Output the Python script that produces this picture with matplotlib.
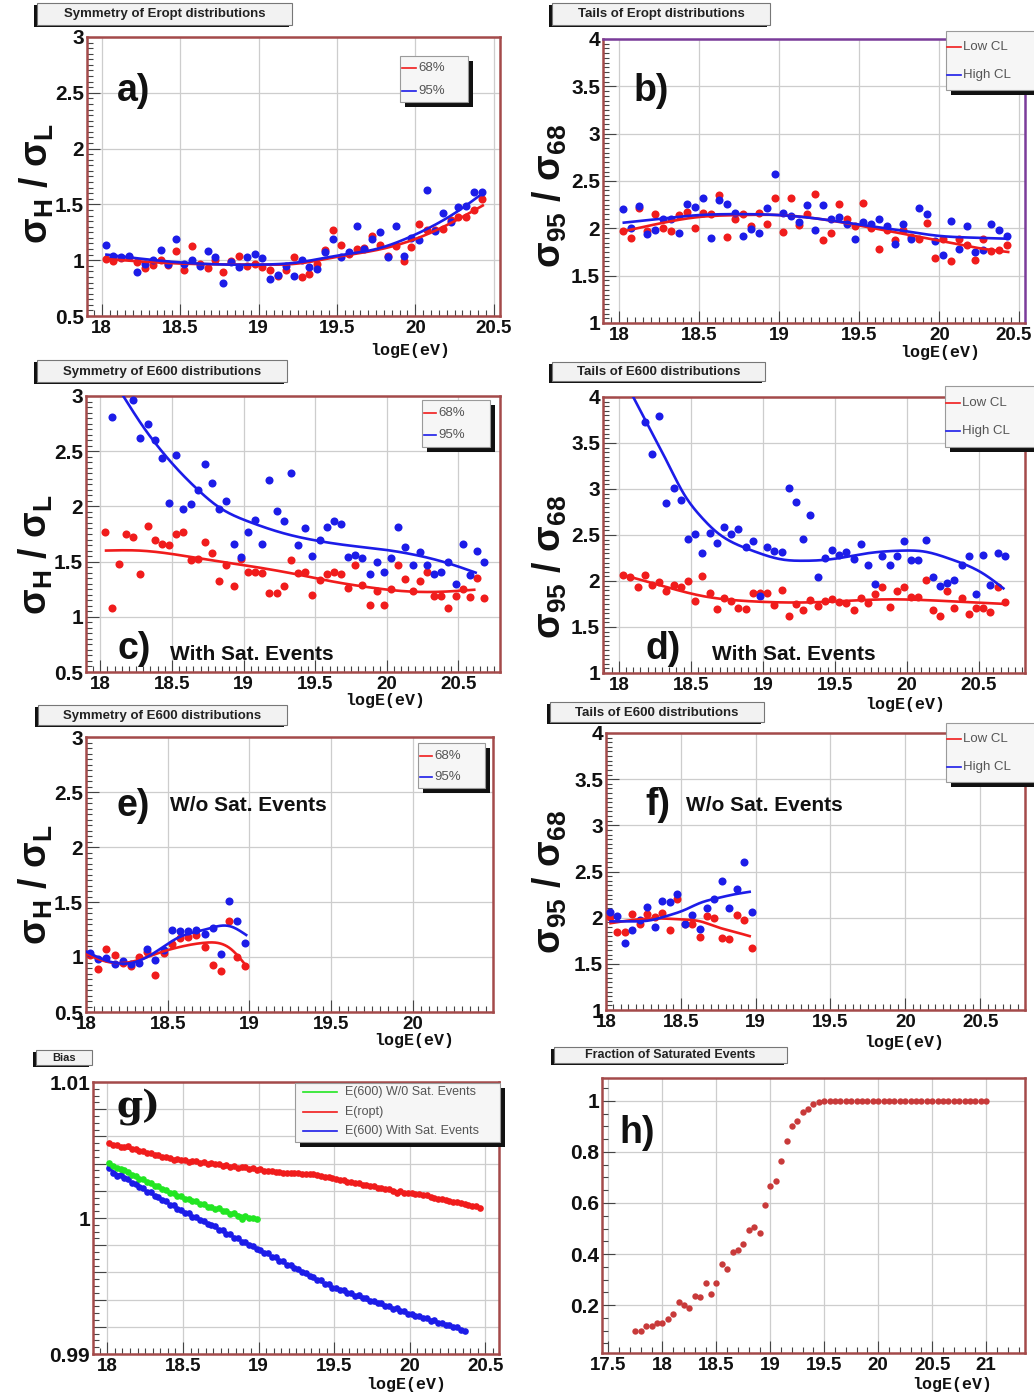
import numpy as np
import matplotlib
matplotlib.use('Agg')
import matplotlib.pyplot as plt
from matplotlib.ticker import MultipleLocator, FuncFormatter
from matplotlib.patches import Rectangle

# ----------------------------------------------------------------- data
# bin centres (logE)
x_eropt = np.round(np.arange(18.025, 20.45, 0.05), 3)        # 49 bins, panels a, b
x_e600 = np.round(np.arange(18.03, 20.70, 0.05), 3)          # 54 bins, panels c, d
x_nosat = np.round(np.arange(18.025, 19.0, 0.05), 3)         # 20 bins, panels e, f
x_bias_ropt = np.round(np.arange(18.0125, 20.47, 0.025), 4)  # 99 bins
x_bias_sat = np.round(np.arange(18.0125, 20.37, 0.025), 4)   # 95 bins
x_bias_nosat = np.round(np.arange(18.0125, 19.0, 0.025), 4)  # 40 bins
x_frac = np.round(np.arange(17.75, 21.01, 0.05), 3)          # 66 bins

# a) symmetry of Eropt
a_68 = [1.01, 0.99, 1.02, 1.03, 0.98, 0.93, 0.96, 1.00, 0.96, 1.08, 0.91, 1.13, 0.97, 0.93, 1.00,
        0.89, 0.99, 1.04, 0.95, 0.97, 0.94, 0.91, 0.86, 0.91, 1.03, 0.85, 0.88, 0.97, 1.09, 1.27,
        1.14, 1.06, 1.10, 1.11, 1.22, 1.14, 1.04, 1.13, 0.99, 1.12, 1.32, 1.27, 1.27, 1.28, 1.36,
        1.39, 1.39, 1.45, 1.55]
a_95 = [1.14, 1.04, 1.03, 1.04, 0.89, 0.97, 1.00, 1.09, 0.97, 1.19, 0.97, 1.00, 0.95, 1.08, 1.03,
        0.80, 0.98, 0.94, 1.03, 1.06, 1.02, 0.83, 0.87, 0.95, 0.86, 1.00, 0.94, 0.92, 1.07, 1.19,
        1.03, 1.07, 1.31, 1.10, 1.19, 1.25, 1.03, 1.31, 1.04, 1.20, 1.18, 1.63, 1.26, 1.42, 1.34,
        1.48, 1.49, 1.61, 1.61]
a_fit_x = [18.03, 18.5, 19.0, 19.25, 19.5, 19.75, 20.0, 20.25, 20.43]
a_fit_68 = [1.01, 0.97, 0.96, 0.97, 1.03, 1.09, 1.19, 1.35, 1.49]
a_fit_95 = [1.05, 0.98, 0.96, 0.98, 1.04, 1.10, 1.23, 1.42, 1.60]

# b) tails of Eropt
b_low = [1.97, 1.90, 2.21, 1.97, 2.15, 2.00, 1.97, 2.14, 2.17, 2.00, 2.16, 2.15, 2.35, 1.91, 2.10,
         2.15, 2.02, 2.16, 2.05, 2.32, 1.96, 2.32, 2.04, 2.15, 2.36, 1.88, 1.95, 2.26, 2.10, 2.02,
         2.27, 2.00, 1.78, 1.98, 1.88, 1.98, 1.91, 1.89, 2.06, 1.69, 1.89, 1.65, 1.89, 1.82, 1.67,
         1.89, 1.76, 1.77, 1.82]
b_high = [2.20, 2.00, 2.24, 1.94, 1.98, 2.10, 2.10, 1.95, 2.26, 2.23, 2.32, 1.90, 2.30, 2.26, 2.16,
          1.92, 1.99, 1.95, 2.22, 2.57, 2.16, 2.13, 2.07, 2.25, 1.98, 2.25, 2.10, 2.12, 2.05, 1.89,
          2.07, 2.05, 2.10, 2.02, 1.83, 2.05, 1.89, 2.22, 2.15, 1.87, 1.72, 2.08, 1.78, 2.02, 1.75,
          1.77, 2.05, 1.98, 1.92]
b_fit_x = [18.03, 18.25, 18.5, 18.75, 19.0, 19.25, 19.5, 19.75, 20.0, 20.25, 20.43]
b_fit_low = [1.97, 2.05, 2.12, 2.14, 2.14, 2.10, 2.03, 1.95, 1.87, 1.79, 1.75]
b_fit_high = [2.06, 2.10, 2.14, 2.15, 2.14, 2.10, 2.04, 1.98, 1.92, 1.90, 1.89]

nan = np.nan
# c) symmetry of E600, with saturated events
c_68 = [1.77, 1.08, 1.48, 1.75, 1.72, 1.39, 1.82, 1.70, 1.66, 1.65, 1.75, 1.77, 1.51, 1.52, 1.68,
        1.58, 1.32, 1.47, 1.28, 1.52, 1.41, 1.41, 1.40, 1.22, 1.22, 1.28, 1.51, 1.40, 1.41, 1.20,
        1.33, 1.39, 1.41, 1.39, 1.26, 1.47, 1.29, 1.11, 1.23, 1.11, 1.25, 1.47, 1.34, 1.23, 1.32,
        1.41, 1.19, 1.19, 1.08, 1.19, 1.25, 1.18, 1.35, 1.17]
c_95 = [nan, 2.81, nan, nan, 2.96, 2.62, 2.75, 2.60, 2.44, 2.03, 2.47, 1.98, 2.02, 2.15, 2.38,
        2.21, 1.98, 2.05, 1.66, 1.54, 1.77, 1.88, 1.66, 2.24, 1.96, 1.87, 2.30, 1.65, 1.80, 1.55,
        1.70, 1.81, 1.87, 1.84, 1.54, 1.56, 1.53, 1.39, 1.50, 1.41, 1.53, 1.81, 1.63, 1.47, 1.59,
        1.47, 1.39, 1.41, 1.50, 1.30, 1.66, 1.38, 1.60, 1.50]
c_fit68_x = [18.04, 18.27, 18.69, 19.04, 19.39, 19.62, 19.86, 20.09, 20.32, 20.61]
c_fit68_y = [1.60, 1.60, 1.53, 1.46, 1.38, 1.32, 1.27, 1.235, 1.225, 1.245]
c_fit95_x = [18.16, 18.30, 18.41, 18.55, 18.69, 18.82, 19.04, 19.27, 19.51, 19.74, 19.97, 20.20,
             20.44, 20.62]
c_fit95_y = [3.00, 2.72, 2.53, 2.32, 2.14, 2.00, 1.86, 1.76, 1.69, 1.645, 1.61, 1.56, 1.48, 1.40]

# d) tails of E600, with saturated events
d_low = [2.07, 2.04, 1.94, 2.07, 1.96, 1.99, 1.89, 1.96, 1.93, 2.00, 1.78, 2.05, 1.87, 1.70, 1.81,
         1.78, 1.71, 1.70, 1.87, 1.87, 1.87, 1.74, 1.90, 1.62, 1.75, 1.68, 1.79, 1.73, 1.78, 1.80,
         1.77, 1.76, 1.68, 1.81, 1.76, 1.86, 1.93, 1.72, 1.89, 1.93, 1.83, 1.83, 2.01, 1.69, 1.62,
         1.89, 1.71, 1.81, 1.64, 1.71, 1.71, 1.66, 1.93, 1.77]
d_high = [nan, nan, nan, 3.73, 3.38, 3.79, 2.85, 3.01, 2.88, 2.46, 2.51, 2.30, 2.52, 2.41, 2.59,
          2.51, 2.56, 2.37, 2.43, 1.84, 2.37, 2.33, 2.31, 3.01, 2.86, 2.46, 2.72, 2.04, 2.25, 2.34,
          2.28, 2.31, 2.24, 2.40, 2.17, 1.97, 2.27, 2.17, 2.27, 2.43, 2.23, 2.23, 2.45, 2.04, 1.95,
          1.98, 2.01, 2.17, 2.27, 1.86, 2.28, 1.96, 2.30, 2.27]
d_fitlow_x = [18.02, 18.34, 18.57, 18.91, 19.38, 19.84, 20.30, 20.69]
d_fitlow_y = [2.07, 1.93, 1.84, 1.78, 1.77, 1.80, 1.78, 1.75]
d_fithigh_x = [18.10, 18.22, 18.34, 18.45, 18.57, 18.68, 18.91, 19.15, 19.26, 19.49, 19.72, 19.96,
               20.12, 20.30, 20.53, 20.67]
d_fithigh_y = [4.00, 3.64, 3.28, 2.95, 2.70, 2.53, 2.34, 2.23, 2.22, 2.24, 2.30, 2.33, 2.32, 2.24,
               2.08, 1.92]

# e) symmetry of E600, without saturated events
e_68 = [1.02, 0.89, 1.07, 1.02, 0.95, 0.92, 1.00, 1.05, 0.84, 1.04, 1.12, 1.17, 1.18, 1.20, 1.09,
        0.93, 0.87, 1.33, 1.00, 0.92]
e_95 = [1.04, 0.98, 0.99, 0.94, 0.96, 0.94, 0.95, 1.07, 0.97, 1.06, 1.25, 1.24, 1.24, 1.25, 1.21,
        1.26, 1.03, 1.51, 1.33, 1.13]
e_fit_x = [18.0, 18.12, 18.29, 18.43, 18.57, 18.73, 18.88, 18.98]
e_fit_68 = [1.03, 0.96, 0.96, 1.03, 1.09, 1.13, 1.08, 0.92]
e_fit_95 = [1.05, 0.97, 0.95, 1.05, 1.18, 1.25, 1.28, 1.20]

# f) tails of E600, without saturated events
f_low = [2.01, 1.85, 1.84, 2.04, 1.93, 2.04, 2.01, 2.05, 1.87, 2.20, 1.93, 1.93, 1.79, 2.02, 2.00,
         1.78, 1.77, 2.03, 1.97, 1.67]
f_high = [2.06, 2.02, 1.73, 1.87, 1.97, 2.12, 1.90, 2.18, 2.17, 2.26, 1.93, 2.03, 1.88, 2.11, 2.20,
          2.40, 2.10, 2.31, 2.60, 2.06]
f_fitlow_x = [18.03, 18.29, 18.52, 18.63, 18.74, 18.85, 18.96]
f_fitlow_y = [1.94, 1.99, 1.98, 1.96, 1.90, 1.85, 1.80]
f_fithigh_x = [18.03, 18.14, 18.29, 18.41, 18.52, 18.63, 18.74, 18.85, 18.96]
f_fithigh_y = [1.96, 1.96, 1.97, 2.02, 2.08, 2.16, 2.21, 2.25, 2.28]

# g) bias (deviation from 1, in units of 1e-3)
g_ropt_1e3 = [5.48, 5.34, 5.36, 5.22, 5.22, 5.30, 5.04, 5.04, 4.89, 4.92, 4.79, 4.80, 4.64, 4.64,
              4.49, 4.52, 4.43, 4.30, 4.36, 4.25, 4.30, 4.15, 4.21, 4.20, 4.07, 4.09, 3.99, 4.05,
              3.94, 3.97, 3.86, 3.91, 3.78, 3.82, 3.70, 3.74, 3.72, 3.61, 3.64, 3.56, 3.57, 3.48,
              3.49, 3.48, 3.39, 3.40, 3.33, 3.33, 3.30, 3.29, 3.28, 3.23, 3.24, 3.22, 3.22, 3.17,
              3.12, 3.05, 2.99, 2.93, 2.89, 2.77, 2.76, 2.65, 2.65, 2.55, 2.55, 2.42, 2.43, 2.33,
              2.32, 2.20, 2.22, 2.12, 2.11, 1.97, 1.86, 1.97, 1.83, 1.87, 1.84, 1.77, 1.73, 1.70,
              1.72, 1.56, 1.48, 1.41, 1.38, 1.30, 1.26, 1.18, 1.14, 1.07, 1.03, 0.96, 0.91, 0.85,
              0.74]
g_sat_1e3 = [3.66, 3.30, 3.12, 3.18, 2.93, 2.85, 2.58, 2.52, 2.27, 2.20, 1.94, 1.88, 1.63, 1.56,
             1.30, 1.25, 0.98, 0.93, 0.68, 0.62, 0.40, 0.35, 0.10, 0.08, -0.18, -0.20, -0.47, -0.48,
             -0.62, -0.88, -0.90, -1.16, -1.20, -1.44, -1.48, -1.73, -1.76, -2.01, -2.05, -2.29,
             -2.33, -2.58, -2.60, -2.86, -2.90, -3.14, -3.18, -3.42, -3.45, -3.71, -3.74, -3.99,
             -4.02, -4.28, -4.31, -4.55, -4.58, -4.84, -4.87, -5.12, -5.13, -5.31, -5.32, -5.51,
             -5.50, -5.70, -5.69, -5.89, -5.90, -6.08, -6.09, -6.27, -6.28, -6.47, -6.46, -6.66,
             -6.65, -6.85, -6.86, -7.04, -7.03, -7.21, -7.20, -7.38, -7.36, -7.54, -7.53, -7.71,
             -7.70, -7.88, -7.86, -8.04, -8.03, -8.21, -8.30]
g_nosat_1e3 = [4.05, 3.80, 3.70, 3.62, 3.55, 3.40, 3.15, 3.12, 2.90, 2.85, 2.62, 2.60, 2.38, 2.35,
               2.10, 2.08, 1.85, 1.82, 1.60, 1.65, 1.40, 1.42, 1.22, 1.25, 1.02, 1.05, 0.84, 0.82,
               0.65, 0.70, 0.48, 0.52, 0.33, 0.40, 0.18, -0.10, 0.15, 0.00, -0.02, -0.05]
g_fit_ropt_x = [18.01, 18.43, 18.95, 19.49, 20.0, 20.47]
g_fit_ropt_1e3 = [5.46, 4.36, 3.62, 2.89, 1.79, 0.76]
g_fit_sat_x = [18.01, 18.43, 18.95, 19.49, 20.0, 20.37]
g_fit_sat_1e3 = [3.62, 0.91, -2.03, -5.09, -7.05, -8.27]
g_fit_nosat_x = [18.01, 18.43, 18.69, 18.99]
g_fit_nosat_1e3 = [4.00, 1.80, 0.76, -0.07]

# h) fraction of saturated events
h_frac = [0.099, 0.100, 0.117, 0.117, 0.128, 0.128, 0.144, 0.164, 0.213, 0.200, 0.190, 0.236,
          0.232, 0.285, 0.245, 0.285, 0.360, 0.340, 0.406, 0.415, 0.441, 0.493, 0.507, 0.483,
          0.594, 0.667, 0.687, 0.765, 0.843, 0.900, 0.920, 0.957, 0.970, 0.987, 0.996,
          1.0, 1.0, 1.0, 1.0, 1.0, 1.0, 1.0, 1.0, 1.0, 1.0, 1.0, 1.0, 1.0, 1.0, 1.0, 1.0,
          1.0, 1.0, 1.0, 1.0, 1.0, 1.0, 1.0, 1.0, 1.0, 1.0, 1.0, 1.0, 1.0, 1.0, 1.0]

# ----------------------------------------------------------------- style
W, H = 1034, 1397
plt.rcParams['font.family'] = ['Liberation Sans', 'DejaVu Sans']
plt.rcParams['mathtext.fontset'] = 'custom'
plt.rcParams['mathtext.rm'] = 'Liberation Sans:bold'
plt.rcParams['mathtext.it'] = 'Liberation Sans:bold'
plt.rcParams['mathtext.bf'] = 'Liberation Sans:bold'

RED = '#f01c1c'
BLUE = '#1c1ce8'
GREEN = '#22e622'
FRAME = '#a44a4a'

fig = plt.figure(figsize=(W / 100, H / 100), dpi=100)
ov = fig.add_axes([0, 0, 1, 1], zorder=20)
ov.set_xlim(0, W)
ov.set_ylim(H, 0)
ov.axis('off')
ov.patch.set_alpha(0)


def spline(xk, yk, n=300):
    xk = np.asarray(xk, float)
    yk = np.asarray(yk, float)
    m = len(xk)
    h = np.diff(xk)
    A = np.zeros((m, m))
    r = np.zeros(m)
    A[0, 0] = A[-1, -1] = 1
    for i in range(1, m - 1):
        A[i, i - 1] = h[i - 1]
        A[i, i] = 2 * (h[i - 1] + h[i])
        A[i, i + 1] = h[i]
        r[i] = 6 * ((yk[i + 1] - yk[i]) / h[i] - (yk[i] - yk[i - 1]) / h[i - 1])
    M = np.linalg.solve(A, r)
    xs = np.linspace(xk[0], xk[-1], n)
    j = np.clip(np.searchsorted(xk, xs) - 1, 0, m - 2)
    t0, t1 = xk[j], xk[j + 1]
    hh = t1 - t0
    a = (t1 - xs) / hh
    b = (xs - t0) / hh
    ys = a * yk[j] + b * yk[j + 1] + ((a ** 3 - a) * M[j] + (b ** 3 - b) * M[j + 1]) * hh ** 2 / 6
    return xs, ys


def fmt(v, p):
    return '%g' % round(v, 4)


def make_ax(box, xlim, ylim, ymaj, ymin, xmaj=0.5, xmin=0.05, frame=FRAME):
    x0, y0, x1, y1 = box
    ax = fig.add_axes([x0 / W, 1 - y1 / H, (x1 - x0) / W, (y1 - y0) / H])
    ax.set_xlim(*xlim)
    ax.set_ylim(*ylim)
    ax.xaxis.set_major_locator(MultipleLocator(xmaj))
    ax.xaxis.set_minor_locator(MultipleLocator(xmin))
    ax.yaxis.set_major_locator(MultipleLocator(ymaj))
    ax.yaxis.set_minor_locator(MultipleLocator(ymin))
    ax.xaxis.set_major_formatter(FuncFormatter(fmt))
    ax.yaxis.set_major_formatter(FuncFormatter(fmt))
    ax.grid(True, which='major', color='#cdcdcd', lw=0.9)
    ax.set_axisbelow(True)
    ax.tick_params(which='both', direction='in', top=False, right=False, color='#444444', width=0.8)
    ax.tick_params(which='major', length=9)
    ax.tick_params(which='minor', length=4.5)
    ax.tick_params(axis='x', labelsize=13.5, pad=3)
    ax.tick_params(axis='y', labelsize=15, pad=2)
    for sp in ax.spines.values():
        sp.set_color(frame)
        sp.set_linewidth(1.8)
    return ax


def bold_ticks(ax):
    for lab in ax.get_xticklabels() + ax.get_yticklabels():
        lab.set_fontweight('bold')
        lab.set_color('#111111')


def title_box(box, text, size=9.5):
    x0, y0, x1, y1 = box
    ov.add_patch(Rectangle((x0 - 3, y0 + 2), x1 - x0, y1 - y0, facecolor='#111111', edgecolor='none'))
    ov.add_patch(Rectangle((x0, y0), x1 - x0, y1 - y0, facecolor='#f2f2f2', edgecolor='#777777', lw=0.8))
    ov.text((x0 + x1) / 2, (y0 + y1) / 2 + 0.5, text, ha='center', va='center', fontsize=size,
            fontweight='bold', color='#222222')


def legend_box(box, entries, line_x, text_x, rows, size=9.5):
    x0, y0, x1, y1 = box
    ov.add_patch(Rectangle((x0 + 5, y0 + 5), x1 - x0, y1 - y0, facecolor='#111111', edgecolor='none'))
    ov.add_patch(Rectangle((x0, y0), x1 - x0, y1 - y0, facecolor='#f6f6f6', edgecolor='#9a9a9a', lw=0.8))
    for (col, lab), yy in zip(entries, rows):
        ov.plot(line_x, [yy, yy], color=col, lw=1.2)
        ov.text(text_x, yy, lab, ha='left', va='center', fontsize=size, color='#555555')


def xlabel(cx, cy):
    ov.text(cx, cy, 'logE(eV)', ha='center', va='center', fontsize=12, fontweight='bold',
            family=['Liberation Mono', 'DejaVu Sans Mono'], color='#111111')


def ylabel(cx, cy, text):
    ov.text(cx, cy, text, ha='center', va='center', rotation=90, fontsize=27, fontweight='bold',
            color='#111111')


def panel_letter(ax, fx, fy, s, serif=False):
    fam = ['DejaVu Serif'] if serif else ['Liberation Sans', 'DejaVu Sans']
    ax.text(fx, fy, s, transform=ax.transAxes, fontsize=27, fontweight='bold', va='center',
            ha='left', family=fam, color='#111111')


def note(ax, fx, fy, s):
    ax.text(fx, fy, s, transform=ax.transAxes, fontsize=15, fontweight='bold', va='center',
            ha='left', family=['Liberation Sans Narrow', 'Liberation Sans'], color='#111111')


def dots(ax, x, y, col, ms=5.8):
    ax.plot(x, y, 'o', ms=ms, color=col, mec=col, mew=0, zorder=3)


def fit(ax, xk, yk, col, lw=1.9):
    xs, ys = spline(xk, yk)
    ax.plot(xs, ys, '-', color=col, lw=lw, zorder=4)


SIG_HL = 'σ$_H$ / σ$_L$'
SIG_9568 = 'σ$_{95}$ / σ$_{68}$'

# ----------------------------------------------------------------- a
ax = make_ax((87, 37, 500, 316), (17.906, 20.54), (0.5, 3), 0.5, 0.05)
dots(ax, x_eropt, a_68, RED)
dots(ax, x_eropt, a_95, BLUE)
fit(ax, a_fit_x, a_fit_68, RED)
fit(ax, a_fit_x, a_fit_95, BLUE)
panel_letter(ax, 0.073, 0.806, 'a)')
bold_ticks(ax)
title_box((37, 3, 292, 25), 'Symmetry of Eropt distributions')
legend_box((400, 56, 468, 102), [(RED, '68%'), (BLUE, '95%')], [402, 416], 418, [68, 91])
ylabel(37, 184, SIG_HL)
xlabel(410, 350)

# ----------------------------------------------------------------- b
ax = make_ax((603, 39, 1025, 323), (17.90, 20.535), (1, 4), 0.5, 0.05)
ax.xaxis.set_major_formatter(FuncFormatter(lambda v, p: '' if v > 20.4 else '%g' % round(v, 4)))
ax.spines['top'].set_color('#7a3c9a')
ax.spines['right'].set_color('#7a3c9a')
dots(ax, x_eropt, b_low, RED)
dots(ax, x_eropt, b_high, BLUE)
fit(ax, b_fit_x, b_fit_low, RED)
fit(ax, b_fit_x, b_fit_high, BLUE)
panel_letter(ax, 0.073, 0.817, 'b)')
bold_ticks(ax)
ov.text(1014, 335, '20.5', ha='center', va='center', fontsize=13.5, fontweight='bold', color='#111111')
title_box((552, 3, 770, 25), 'Tails of Eropt distributions')
legend_box((946, 31, 1040, 90), [(RED, 'Low CL'), (BLUE, 'High CL')], [947, 961], 963, [47, 75])
ylabel(550, 196, SIG_9568)
xlabel(940, 353)

# ----------------------------------------------------------------- c
ax = make_ax((86, 396, 500, 672), (17.90, 20.79), (0.5, 3), 0.5, 0.05)
dots(ax, x_e600, c_68, RED)
dots(ax, x_e600, c_95, BLUE)
fit(ax, c_fit68_x, c_fit68_y, RED)
fit(ax, c_fit95_x, c_fit95_y, BLUE)
panel_letter(ax, 0.077, 0.085, 'c)')
note(ax, 0.203, 0.065, 'With Sat. Events')
bold_ticks(ax)
title_box((37, 360, 287, 382), 'Symmetry of E600 distributions')
legend_box((422, 400, 490, 447), [(RED, '68%'), (BLUE, '95%')], [424, 436], 438, [413, 435])
ylabel(36, 555, SIG_HL)
xlabel(385, 701)

# ----------------------------------------------------------------- d
ax = make_ax((603, 397, 1025, 673), (17.89, 20.82), (1, 4), 0.5, 0.05)
dots(ax, x_e600, d_low, RED)
dots(ax, x_e600, d_high, BLUE)
fit(ax, d_fitlow_x, d_fitlow_y, RED)
fit(ax, d_fithigh_x, d_fithigh_y, BLUE)
panel_letter(ax, 0.10, 0.088, 'd)')
note(ax, 0.258, 0.068, 'With Sat. Events')
bold_ticks(ax)
title_box((552, 362, 765, 381), 'Tails of E600 distributions')
legend_box((945, 386, 1040, 447), [(RED, 'Low CL'), (BLUE, 'High CL')], [946, 960], 962, [403, 431])
ylabel(550, 567, SIG_9568)
xlabel(905, 704)

# ----------------------------------------------------------------- e
ax = make_ax((86, 737, 493, 1012), (18.0, 20.49), (0.5, 3), 0.5, 0.05)
dots(ax, x_nosat, e_68, RED)
dots(ax, x_nosat, e_95, BLUE)
fit(ax, e_fit_x, e_fit_68, RED)
fit(ax, e_fit_x, e_fit_95, BLUE)
panel_letter(ax, 0.076, 0.75, 'e)')
note(ax, 0.206, 0.75, 'W/o Sat. Events')
bold_ticks(ax)
title_box((38, 705, 287, 725), 'Symmetry of E600 distributions')
legend_box((418, 743, 485, 788), [(RED, '68%'), (BLUE, '95%')], [420, 432], 434, [756, 777])
ylabel(36, 885, SIG_HL)
xlabel(414, 1041)

# ----------------------------------------------------------------- f
ax = make_ax((606, 733, 1025, 1010), (18.0, 20.80), (1, 4), 0.5, 0.05)
dots(ax, x_nosat, f_low, RED)
dots(ax, x_nosat, f_high, BLUE)
fit(ax, f_fitlow_x, f_fitlow_y, RED)
fit(ax, f_fithigh_x, f_fithigh_y, BLUE)
panel_letter(ax, 0.093, 0.74, 'f)')
note(ax, 0.19, 0.74, 'W/o Sat. Events')
bold_ticks(ax)
title_box((550, 702, 764, 722), 'Tails of E600 distributions')
legend_box((946, 723, 1040, 782), [(RED, 'Low CL'), (BLUE, 'High CL')], [947, 961], 963, [739, 767])
ylabel(550, 882, SIG_9568)
xlabel(904, 1042)

# ----------------------------------------------------------------- g
ax = make_ax((93, 1082, 499, 1354), (17.905, 20.59), (0.99, 1.01), 0.002, 0.0005)
ax.yaxis.set_major_formatter(FuncFormatter(
    lambda v, p: ('%g' % round(v, 4)) if min(abs(v - 0.99), abs(v - 1.0), abs(v - 1.01)) < 1e-6 else ''))
g_ropt = 1 + np.array(g_ropt_1e3) * 1e-3
g_sat = 1 + np.array(g_sat_1e3) * 1e-3
g_nosat = 1 + np.array(g_nosat_1e3) * 1e-3
dots(ax, x_bias_ropt, g_ropt, RED, ms=4.8)
dots(ax, x_bias_sat, g_sat, BLUE, ms=4.8)
dots(ax, x_bias_nosat, g_nosat, GREEN, ms=4.8)
fit(ax, g_fit_ropt_x, 1 + np.array(g_fit_ropt_1e3) * 1e-3, RED, lw=1.6)
fit(ax, g_fit_sat_x, 1 + np.array(g_fit_sat_1e3) * 1e-3, BLUE, lw=1.6)
fit(ax, g_fit_nosat_x, 1 + np.array(g_fit_nosat_1e3) * 1e-3, GREEN, lw=1.6)
panel_letter(ax, 0.059, 0.905, 'g)', serif=True)
bold_ticks(ax)
title_box((36, 1050, 92, 1065), 'Bias', size=8)
legend_box((295, 1083, 500, 1142),
           [(GREEN, 'E(600) W/0 Sat. Events'), (RED, 'E(ropt)'), (BLUE, 'E(600) With Sat. Events')],
           [303, 337], 345, [1092, 1112, 1131], size=9)
xlabel(406, 1384)

# ----------------------------------------------------------------- h
ax = make_ax((602, 1078, 1025, 1353), (17.44, 21.36), (0.012, 1.09), 0.2, 0.05, xmaj=0.5, xmin=0.1)
ax.yaxis.set_major_locator(MultipleLocator(0.2))
dots(ax, x_frac, h_frac, '#c83a3a', ms=4.6)
panel_letter(ax, 0.04, 0.80, 'h)')
bold_ticks(ax)
title_box((554, 1047, 787, 1063), 'Fraction of Saturated Events', size=9)
xlabel(952, 1385)

fig.savefig('out.png', dpi=100)
